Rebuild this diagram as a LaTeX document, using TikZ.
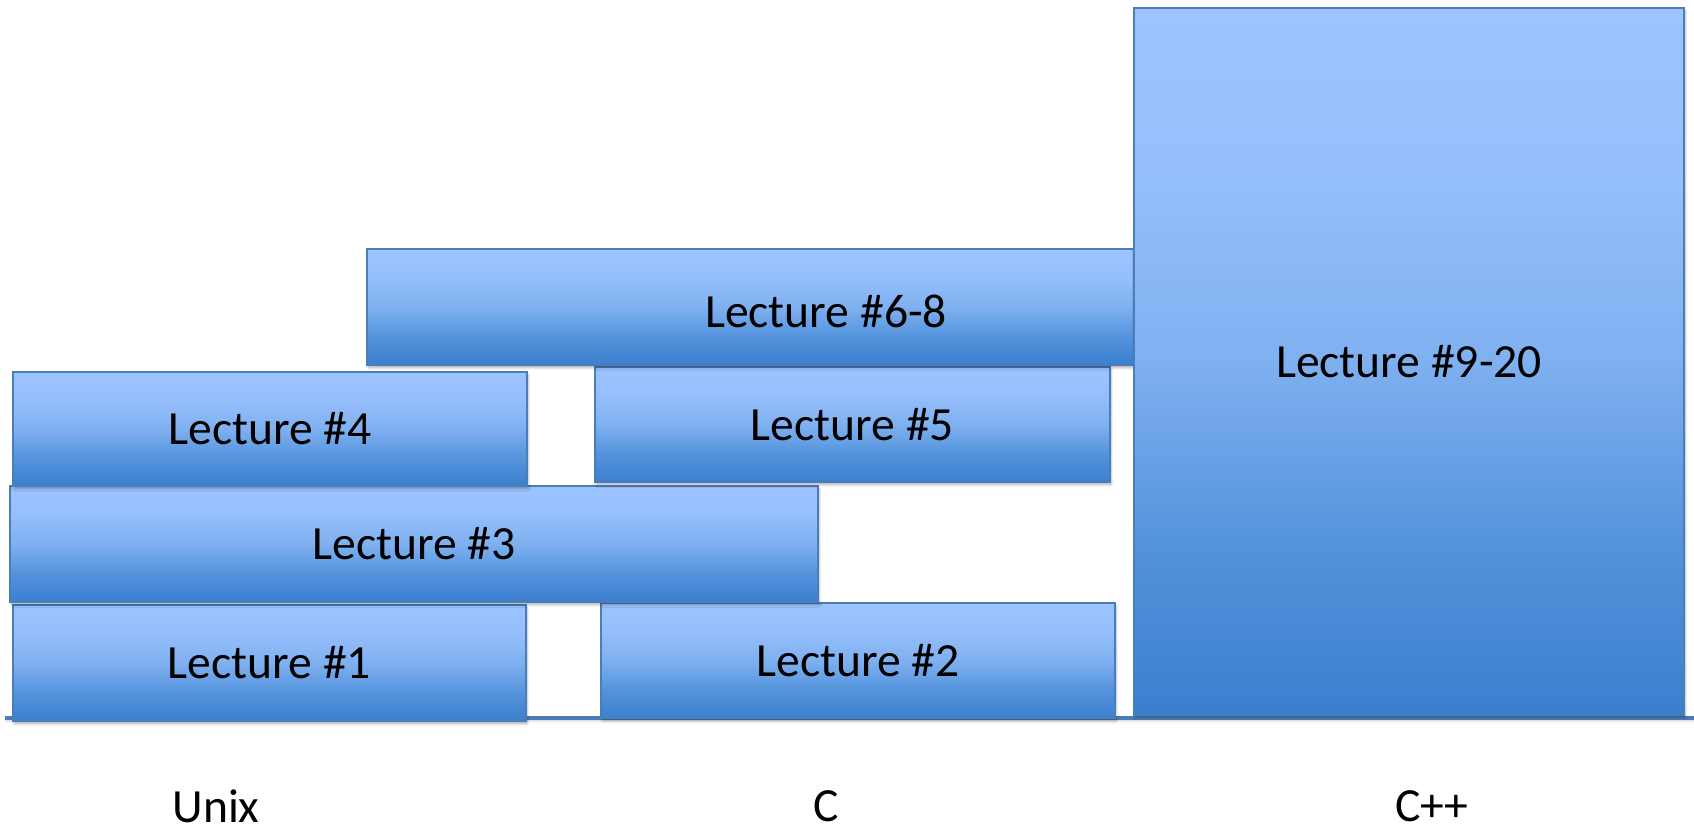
\documentclass[tikz,border=0pt]{standalone}
\usepackage{fontspec}
\setmainfont{Carlito}
\usetikzlibrary{shadows.blur}

\definecolor{lecTop}{HTML}{9DC4FF}
\definecolor{lecUp}{HTML}{95BEFC}
\definecolor{lecMid}{HTML}{7FB0F0}
\definecolor{lecLow}{HTML}{5594DD}
\definecolor{lecBot}{HTML}{3A7FCE}
\definecolor{lecEdge}{HTML}{4A7EBB}

% Office-style blue gradient; the path is mapped onto 25bp..75bp
\pgfdeclareverticalshading{lecshade}{100bp}{%
  color(0bp)=(lecBot); color(25bp)=(lecBot); color(37.5bp)=(lecLow);
  color(50bp)=(lecMid); color(62.5bp)=(lecUp); color(75bp)=(lecTop);
  color(100bp)=(lecTop)}

\tikzset{
  lec/.style={draw=lecEdge, line width=0.75pt, shading=lecshade,
    inner sep=0pt, outer sep=0pt, font=\fontsize{23.8}{28}\selectfont,
    blur shadow={shadow xshift=0.6pt, shadow yshift=-1.4pt,
      shadow opacity=30, shadow blur steps=6, shadow blur radius=1.2pt}},
  lang/.style={font=\fontsize{23.8}{28}\selectfont, inner sep=0pt}
}

\begin{document}
\begin{tikzpicture}[x=0.5pt, y=-0.5pt]
  \useasboundingbox (0,0) rectangle (1694,829);

  % floor line
  \coordinate (floorL) at (5,718);
  \coordinate (floorR) at (1694,718);
  \draw[lecEdge, line width=1.6pt,
    blur shadow={shadow xshift=0pt, shadow yshift=-1pt, shadow opacity=25}]
    (floorL) -- (floorR);

  % lecture blocks (sizes in px, halved to pt)
  \node[lec, minimum width=256.5pt, minimum height=58pt]   (l1)  at (269.5,663)  {Lecture \#1};
  \node[lec, minimum width=257pt,   minimum height=57.5pt] (l2)  at (858,660.5)  {Lecture \#2};
  \node[lec, minimum width=404pt,   minimum height=58pt]   (l3)  at (414,544)    {Lecture \#3};
  \node[lec, minimum width=257pt,   minimum height=57pt]   (l4)  at (270,429)    {Lecture \#4};
  \node[lec, minimum width=257.5pt, minimum height=57.5pt] (l5)  at (852.5,424.5){Lecture \#5};
  \node[lec, minimum width=383.5pt, minimum height=58pt]   (l68) at (750.5,307)  {};
  \node[lang] (t68) at (826,311) {Lecture \#6-8};
  \node[lec, minimum width=275pt,   minimum height=353.5pt] (l920) at (1409,361.5) {Lecture \#9-20};

  % subject labels
  \node[lang] (unix) at (216,806) {Unix};
  \node[lang] (c)    at (826,806) {C};
  \node[lang] (cpp)  at (1432,806) {C++};
\end{tikzpicture}
\end{document}
